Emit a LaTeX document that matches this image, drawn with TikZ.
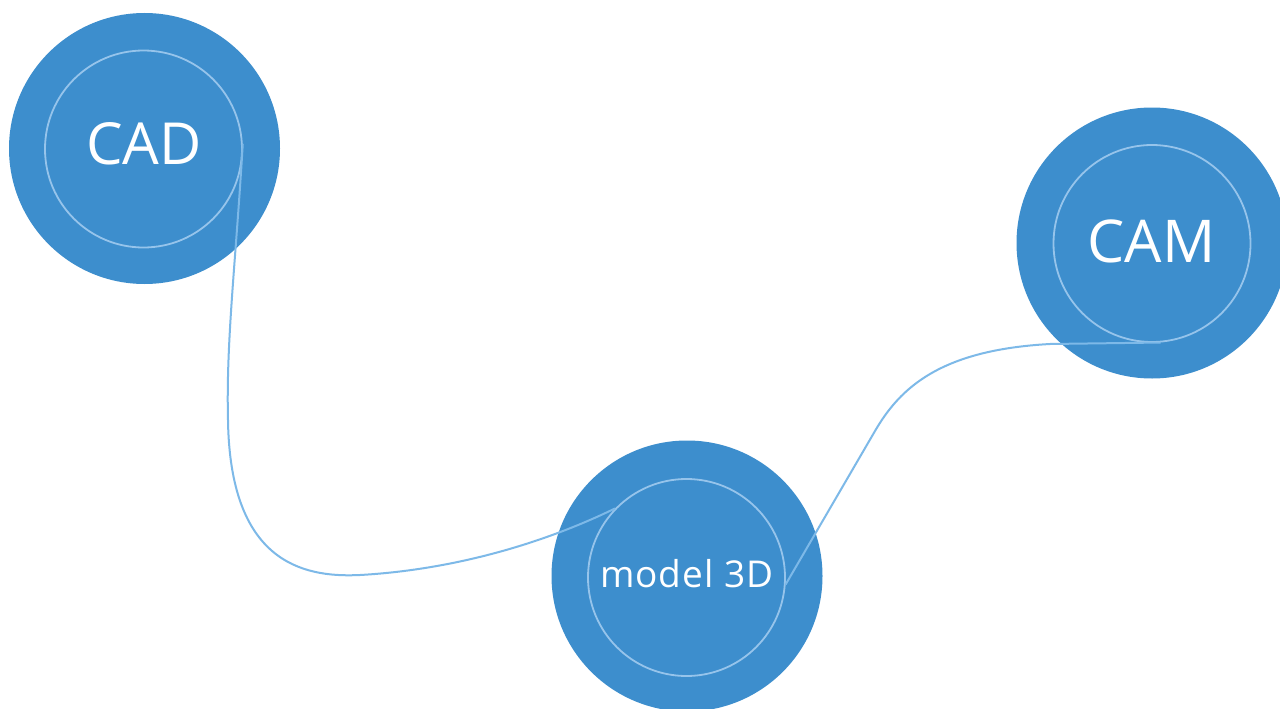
\documentclass[tikz,border=0pt]{standalone}
\usepackage{fontspec}
\setmainfont{Open Sans}
\definecolor{discblue}{RGB}{61,142,205}
\definecolor{ringblue}{RGB}{150,196,235}
\definecolor{wireblue}{RGB}{125,185,232}
\begin{document}
\begin{tikzpicture}[x=1pt,y=-1pt,
  disc/.style={circle,fill=discblue,minimum size=271pt,inner sep=0pt},
  ring/.style={circle,draw=ringblue,line width=1.8pt,minimum size=197pt,inner sep=0pt},
  label/.style={text=white,inner sep=0pt},
  wire/.style={draw=wireblue,line width=2pt}]
\useasboundingbox (0,0) rectangle (1280,709);
\clip (0,0) rectangle (1280,709);
\fill[white] (0,0) rectangle (1280,709);

% outer discs
\node[disc] (cad) at (144.5,148.5) {};
\node[disc] (cam) at (1152,243) {};
\node[disc] (m3d) at (687,576) {};

% inner rings
\node[ring] (cadin) at (143.5,149) {};
\node[ring] (camin) at (1152,243.5) {};
\node[ring] (m3din) at (686.5,577.5) {};

% labels
\node[label,font=\fontsize{58}{64}\selectfont] (cadtxt) at (144,144) {CAD};
\node[label,font=\fontsize{59}{64}\selectfont] (camtxt) at (1151.5,241.5) {CAM};
\node[label,font=\fontsize{37}{42}\selectfont\addfontfeature{LetterSpace=3}] (m3dtxt) at (687,574) {model 3D};

% connectors
\draw[wire] (cadin.3) .. controls (236,260) and (226,340) .. (228,420)
  .. controls (230,560) and (300,578) .. (360,575)
  .. controls (450,570) and (540,545) .. (m3din.136);
\draw[wire] (m3din.-4) -- (875,431)
  .. controls (900,388) and (940,350) .. (1050,344)
  -- (camin.-85);
\end{tikzpicture}
\end{document}
